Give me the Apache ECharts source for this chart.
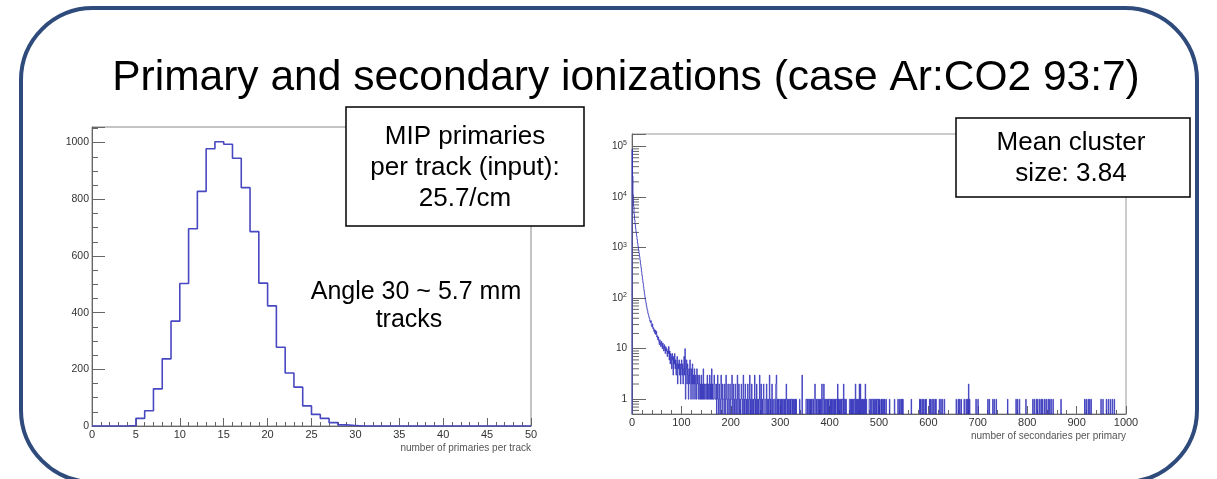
<!DOCTYPE html>
<html><head><meta charset="utf-8">
<script src="https://cdn.jsdelivr.net/npm/echarts@6/dist/echarts.min.js"></script>
<style>html,body{margin:0;padding:0;background:#fff;}#c{width:1217px;height:479px;}</style>
</head><body><div id="c"></div>
<script>
// ---- Left histogram: number of primaries per track (bins of width 1, 0..50)
const primaryCounts = [0,0,0,0,2,27,54,131,237,370,503,696,828,978,1003,994,945,841,686,504,
  424,278,187,137,71,41,27,12,4,2,0,0,0,0,0,0,0,0,0,0,0,0,0,0,0,0,0,0,0,0];
const primaryXTicks = [0,5,10,15,20,25,30,35,40,45,50];
const primaryYTicks = [0,200,400,600,800,1000];

// ---- Right histogram: number of secondaries per primary (bins of width 1, 0..1000)
const secHead = [88000,26000,11000,6500,4600,3600,2900,2400,2000,1700,1450,1230,1050,900,770,660,560,470,400,335,
  280,235,200,168,142,120,104,90,80,70,62,57,50,47,42,40,35,33,36,29,27,31,25,26,22,24,20,23,19,22,
  17,18,15,17,14,12,15,13,11,14,12,10,13,11,9,12,10,8,11,9,10,7,9,8,11,6,9,5,8,7,
  4,8,6,3,7,5,8,4,6,3,5,7,2,5,4,6,3,5,2,4,6,3,5,2,4,7,3,10,1,4,
  6,2,5,3,1,4,2,6,3,1,4,2,5,1,3,2,4,1,3,2,1,4,2,3,1,2,3,1,2,1,
  3,1,2,1,4,1,2,1,1,2,2,1,3,1,2,1,1,3,1,2,1,4,1,2,1,1,3,2,1,1];
const secTailBins = [170,172,173,174,176,177,179,180,181,183,184,185,187,188,190,191,192,194,195,197,198,200,201,202,204,205,207,209,210,212,213,215,216,218,220,221,222,224,225,227,229,230,232,234,235,237,238,240,242,243,245,247,248,250,
  252,253,255,257,258,260,261,263,265,266,269,270,272,273,275,277,278,280,282,283,285,288,289,291,292,294,296,298,299,301,303,305,306,308,310,312,313,315,317,318,320,322,323,325,327,328,330,332,
  339,344,352,353,355,357,358,360,362,364,365,367,370,371,373,375,376,378,380,382,384,385,387,388,390,392,393,395,397,399,400,402,404,406,407,409,411,413,414,416,418,420,421,423,425,426,428,430,431,433,
  440,441,443,445,447,449,450,452,454,456,458,460,462,464,466,468,470,472,474,480,481,483,484,486,487,489,491,492,494,496,497,499,501,504,506,509,511,514,
  521,531,538,541,544,546,548,565,582,584,587,590,593,595,602,604,607,610,613,615,622,625,628,632,656,660,663,666,672,676,679,681,683,696,700,720,723,730,733,737,760,777,780,784,797,
  811,814,818,821,825,828,831,835,838,842,845,848,852,868,916,919,923,926,929,949,953,960,964,968,972,976];
const secTailCounts = [2,1,3,1,2,1,1,3,1,2,1,1,2,1,3,1,1,2,1,1,2,1,1,3,1,2,1,2,1,1,3,1,2,1,1,2,1,1,3,1,2,1,1,2,1,1,3,1,2,1,1,1,3,1,
  2,1,1,1,3,1,2,1,1,2,1,1,2,1,1,1,3,1,1,2,1,1,1,2,3,1,1,1,1,1,1,1,1,1,1,2,1,1,1,1,1,1,1,1,1,1,1,1,
  1,3,1,1,1,1,1,1,1,1,1,1,2,1,1,1,1,1,1,1,2,1,1,2,1,1,1,1,1,1,1,1,1,1,1,1,1,1,1,2,1,1,1,1,1,1,2,1,1,1,
  1,1,1,1,1,1,1,2,1,1,1,2,2,1,1,1,1,2,1,1,1,1,1,1,1,1,1,1,1,1,1,1,1,1,1,1,1,1,
  1,1,1,1,1,1,1,1,1,1,1,1,1,1,1,1,1,1,1,1,1,1,1,1,1,1,1,1,1,1,1,2,1,1,1,1,1,1,1,1,1,1,1,1,1,
  1,1,1,1,1,1,1,1,1,1,1,1,1,1,1,1,1,1,1,1,1,1,1,1,1,1];
const secXTicks = [0,100,200,300,400,500,600,700,800,900,1000];

// ---- Texts
const titleText = 'Primary and secondary ionizations (case Ar:CO2 93:7)';
const mipLines = ['MIP primaries', 'per track (input):', '25.7/cm'];
const clusterLines = ['Mean cluster', 'size: 3.84'];
const angleLines = ['Angle 30 ~ 5.7 mm', 'tracks'];

// ---- Build library data
const NBIN_SEC = 1000;
const secCounts = new Array(NBIN_SEC).fill(0);
secHead.forEach((v, i) => { secCounts[i] = v; });
secTailBins.forEach((b, i) => { secCounts[b] = secTailCounts[i]; });
const secData = secCounts.map((c, i) => [i, c, i > 0 ? secCounts[i - 1] : 0]);
secData.push([NBIN_SEC, 0, secCounts[NBIN_SEC - 1]]);

const primData = primaryCounts.map((c, i) => [i, c]);
primData.push([primaryCounts.length, primaryCounts[primaryCounts.length - 1]]);

const LOG_MIN = 0.51, LOG_MAX = 177000;
const logMinor = [];
for (let k = -1; k <= 5; k++) for (let m = 2; m <= 9; m++) {
  const v = m * Math.pow(10, k);
  if (v > LOG_MIN && v < LOG_MAX) logMinor.push([0, v]);
}

const FONT = "'Liberation Sans', Arial, Helvetica, sans-serif";
const axisCol = '#666';
const labCol = '#333';

function isPow10(v) { const l = Math.log10(v); return Math.abs(l - Math.round(l)) < 1e-6; }

const chart = echarts.init(document.getElementById('c'), null, {renderer: 'canvas'});

const graphics = [
  {type: 'rect', z: -10, shape: {x: 21, y: 8, width: 1176, height: 474, r: 72},
   style: {fill: 'none', stroke: '#2f4b7c', lineWidth: 4}},
  {type: 'text', z: 100, style: {x: 626, y: 78, text: titleText, fill: '#000', font: '42.5px ' + FONT, textAlign: 'center', textVerticalAlign: 'middle'}},
  {type: 'rect', z: 100, shape: {x: 346, y: 107, width: 238, height: 119},
   style: {fill: '#fff', stroke: '#000', lineWidth: 1.5}},
  {type: 'rect', z: 100, shape: {x: 956, y: 118, width: 234, height: 79},
   style: {fill: '#fff', stroke: '#000', lineWidth: 1.5}}
];
mipLines.forEach((t, i) => graphics.push({type: 'text', z: 101,
  style: {x: 465, y: 137 + i * 31, text: t, fill: '#000', font: '26px ' + FONT, textAlign: 'center', textVerticalAlign: 'middle'}}));
clusterLines.forEach((t, i) => graphics.push({type: 'text', z: 101,
  style: {x: 1071, y: 143 + i * 31, text: t, fill: '#000', font: '26px ' + FONT, textAlign: 'center', textVerticalAlign: 'middle'}}));
angleLines.forEach((t, i) => graphics.push({type: 'text', z: 101,
  style: {x: i === 0 ? 416 : 409, y: 292 + i * 28, text: t, fill: '#000', font: '25px ' + FONT, textAlign: 'center', textVerticalAlign: 'middle'}}));

function xAxisCommon(gridIndex, min, max, interval, name) {
  return {
    type: 'value', gridIndex, min, max, interval,
    axisLine: {show: true, onZero: false, lineStyle: {color: axisCol, width: 1}},
    axisTick: {show: true, inside: true, length: 8, lineStyle: {color: axisCol}},
    minorTick: {show: true, splitNumber: 5, length: 4, lineStyle: {color: axisCol}},
    axisLabel: {fontSize: 11, color: labCol, fontFamily: FONT, margin: 3, showMinLabel: true, showMaxLabel: true,
      formatter: v => String(v)},
    splitLine: {show: false},
    name, nameLocation: 'end', nameGap: 0,
    nameTextStyle: {fontSize: 10, color: '#555', fontFamily: FONT, align: 'right', verticalAlign: 'top', padding: [17, 0, 0, 0]}
  };
}

const option = {
  animation: false,
  backgroundColor: '#fff',
  grid: [
    {left: 92, top: 127, width: 439, height: 299, show: true, borderColor: '#888', borderWidth: 1, backgroundColor: 'transparent'},
    {left: 632, top: 134, width: 494, height: 280, show: true, borderColor: '#999', borderWidth: 1, backgroundColor: 'transparent'}
  ],
  xAxis: [
    xAxisCommon(0, primaryXTicks[0], primaryXTicks[primaryXTicks.length - 1], primaryXTicks[1] - primaryXTicks[0], 'number of primaries per track'),
    xAxisCommon(1, secXTicks[0], secXTicks[secXTicks.length - 1], secXTicks[1] - secXTicks[0], 'number of secondaries per primary')
  ],
  yAxis: [
    {type: 'value', gridIndex: 0, min: 0, max: 1055, interval: primaryYTicks[1] - primaryYTicks[0],
     axisLine: {show: true, lineStyle: {color: axisCol}},
     axisTick: {show: true, inside: true, length: 13, lineStyle: {color: axisCol}},
     minorTick: {show: true, splitNumber: 4, length: 6, lineStyle: {color: axisCol}},
     axisLabel: {fontSize: 10.5, color: labCol, fontFamily: FONT, margin: 3,
       formatter: v => primaryYTicks.indexOf(v) >= 0 ? String(v) : ''},
     splitLine: {show: false}},
    {type: 'log', gridIndex: 1, logBase: 10, min: LOG_MIN, max: LOG_MAX,
     axisLine: {show: true, lineStyle: {color: axisCol}},
     axisTick: {show: true, inside: true, length: 14, lineStyle: {color: axisCol}},
     minorTick: {show: false},
     axisLabel: {fontSize: 10, color: labCol, fontFamily: FONT, margin: 5,
       formatter: v => {
         if (!isPow10(v)) return '';
         const e = Math.round(Math.log10(v));
         if (e === 0) return '1';
         if (e === 1) return '10';
         return '10{s|' + e + '}';
       },
       rich: {s: {fontSize: 7, verticalAlign: 'top', color: labCol, fontFamily: FONT, padding: [0, 0, 6, 0]}}},
     splitLine: {show: false}}
  ],
  graphic: graphics,
  series: [
    {type: 'line', xAxisIndex: 0, yAxisIndex: 0, data: primData, step: 'end', symbol: 'none',
     lineStyle: {color: '#4848c2', width: 1.6}, silent: true, z: 5},
    {type: 'custom', xAxisIndex: 1, yAxisIndex: 1, data: secData, encode: {x: 0, y: 1}, silent: true, z: 5,
     renderItem: (params, api) => {
       const b = api.value(0), c = api.value(1), pc = api.value(2);
       if (c <= 0 && pc <= 0) return null;
       const cs = params.coordSys;
       const bottom = cs.y + cs.height;
       const x0 = api.coord([b, 1])[0];
       const x1 = api.coord([Math.min(b + 1, NBIN_SEC), 1])[0];
       const yc = c > 0 ? api.coord([b, c])[1] : bottom;
       const yp = pc > 0 ? api.coord([b, pc])[1] : bottom;
       return {type: 'polyline', shape: {points: [[x0, yp], [x0, yc], [x1, yc]]},
         style: {stroke: 'rgba(45,45,185,0.8)', lineWidth: 1, fill: null}};
     }},
    {type: 'custom', xAxisIndex: 1, yAxisIndex: 1, data: logMinor, encode: {x: 0, y: 1}, silent: true, z: 4,
     renderItem: (params, api) => {
       const p = api.coord([0, api.value(1)]);
       return {type: 'line', shape: {x1: p[0], y1: p[1], x2: p[0] + 7, y2: p[1]}, style: {stroke: axisCol, lineWidth: 1}};
     }}
  ]
};
chart.setOption(option);
</script></body></html>
